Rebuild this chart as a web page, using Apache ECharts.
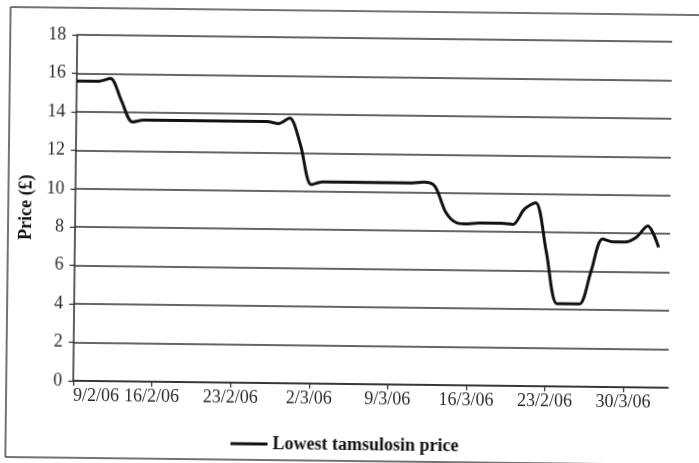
<!DOCTYPE html>
<html>
<head>
<meta charset="utf-8">
<script src="https://cdn.jsdelivr.net/npm/echarts@6/dist/echarts.min.js"></script>
<style>
  html, body { margin: 0; padding: 0; background: #fff; overflow: hidden; }
  /* the scan is a little tilted */
  #chart { width: 699px; height: 463px; transform: rotate(0.67deg); }
</style>
</head>
<body>
<div id="chart"></div>
<script>
// x axis: one category per day starting 9/2/06
const startDay = new Date(2006, 1, 9);
const dayCount = 54;
const days = [];
for (let i = 0; i < dayCount; i++) {
  const d = new Date(startDay.getTime() + i * 86400000);
  days.push(d.getDate() + '/' + (d.getMonth() + 1) + '/06');
}

// labels printed every 7 days (the 7th one is mis-printed in the original)
const tickLabels = ['9/2/06', '16/2/06', '23/2/06', '2/3/06', '9/3/06', '16/3/06', '23/2/06', '30/3/06'];

const seriesName = 'Lowest tamsulosin price';
const prices = [
  15.6, 15.6, 15.6, 15.75, 14.6, 13.5, 13.6,
  13.6, 13.6, 13.6, 13.6, 13.6, 13.6, 13.6,
  13.6, 13.6, 13.6, 13.6, 13.5, 13.8, 12.4,
  10.35, 10.5, 10.5, 10.5, 10.5, 10.5, 10.5,
  10.5, 10.5, 10.5, 10.55, 10.35, 9.0, 8.45,
  8.4, 8.45, 8.45, 8.45, 8.4, 9.2, 9.55,
  7.0, 4.3, 4.3, 4.3, 6.0, 7.7, 7.55,
  7.55, 7.8, 8.4, 7.3
];

const serif = '"Liberation Serif", "DejaVu Serif", serif';
const ink = '#2a2a2a';

const chart = echarts.init(document.getElementById('chart'));
chart.setOption({
  animation: false,
  backgroundColor: '#fff',
  grid: { left: 75, right: 29, top: 38, bottom: 79 },
  graphic: [
    // outer frame of the figure (no right edge in the scan)
    { type: 'line', shape: { x1: 8, y1: 11, x2: 720, y2: 11 }, style: { stroke: '#444', lineWidth: 1.5 } },
    { type: 'line', shape: { x1: 8, y1: 11, x2: 8, y2: 461 }, style: { stroke: '#444', lineWidth: 1.5 } },
    { type: 'line', shape: { x1: 8, y1: 461, x2: 720, y2: 461 }, style: { stroke: '#444', lineWidth: 1.5 } }
  ],
  legend: {
    left: 228,
    top: 431,
    icon: 'rect',
    itemWidth: 37,
    itemHeight: 3,
    itemGap: 8,
    textStyle: { fontFamily: serif, fontWeight: 'bold', fontSize: 18, color: '#111' },
    data: [seriesName]
  },
  xAxis: {
    type: 'category',
    data: days,
    boundaryGap: false,
    axisLine: { lineStyle: { color: ink, width: 1.5 } },
    axisTick: { show: true, interval: 6, length: 5, lineStyle: { color: ink, width: 1.2 } },
    axisLabel: {
      interval: 6,
      margin: 6,
      alignMinLabel: 'left',
      fontFamily: serif,
      fontSize: 18,
      color: ink,
      formatter: function (v, i) { return tickLabels[i / 7] || ''; }
    },
    splitLine: { show: false }
  },
  yAxis: {
    type: 'value',
    min: 0,
    max: 18,
    interval: 2,
    name: 'Price (£)',
    nameLocation: 'middle',
    nameGap: 38,
    nameTextStyle: { fontFamily: serif, fontWeight: 'bold', fontSize: 18, color: '#111' },
    axisLine: { show: true, lineStyle: { color: ink, width: 1.5 } },
    axisTick: { show: true, length: 5, lineStyle: { color: ink, width: 1.2 } },
    axisLabel: { margin: 11, fontFamily: serif, fontSize: 18, color: ink },
    splitLine: { lineStyle: { color: '#333', width: 1.5 } }
  },
  series: [
    {
      name: seriesName,
      type: 'line',
      data: prices,
      smooth: 0.3,
      showSymbol: false,
      color: '#111',
      lineStyle: { color: '#111', width: 3 }
    }
  ]
});
</script>
</body>
</html>
